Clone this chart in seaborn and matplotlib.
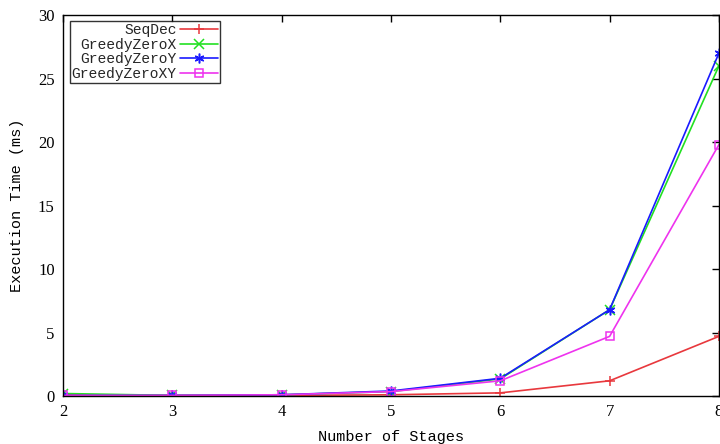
import matplotlib
matplotlib.use("Agg")
import matplotlib.pyplot as plt
import seaborn as sns
import pandas as pd

stages = [2, 3, 4, 5, 6, 7, 8]
seqdec = [0.1, 0.05, 0.05, 0.1, 0.25, 1.2, 4.7]
greedy_x = [0.2, 0.05, 0.1, 0.35, 1.35, 6.8, 26.0]
greedy_y = [0.05, 0.05, 0.1, 0.4, 1.4, 6.8, 27.0]
greedy_xy = [0.05, 0.05, 0.1, 0.35, 1.2, 4.7, 19.8]

series_names = ["SeqDec", "GreedyZeroX", "GreedyZeroY", "GreedyZeroXY"]
series_vals = [seqdec, greedy_x, greedy_y, greedy_xy]
colors = ["#e8383d", "#22e022", "#1a1aff", "#ee33ee"]
markers = ["+", "x", (6, 2, 0), "s"]

sns.set_theme(style="white")
plt.rcParams["font.family"] = ["Liberation Mono", "DejaVu Sans Mono"]

fig = plt.figure(figsize=(7.2, 4.44), dpi=100)
ax = fig.add_axes([0.0875, 0.108, 0.911, 0.858])

for name, vals, c, m in zip(series_names, series_vals, colors, markers):
    df = pd.DataFrame({"stage": stages, "time": vals})
    kw = dict(markersize=7, markeredgewidth=1.1, markeredgecolor=c,
              markerfacecolor=c)
    if m == "s":
        kw.update(markerfacecolor="none", markersize=6)
    sns.lineplot(data=df, x="stage", y="time", ax=ax, color=c, marker=m,
                 linewidth=1.2, label=name, **kw)

ax.set_xlim(2, 8)
ax.set_ylim(0, 30)
ax.set_xticks(stages)
ax.set_yticks([0, 5, 10, 15, 20, 25, 30])
ax.tick_params(direction="in", length=5, width=1, top=True, right=True,
               labelsize=12, colors="black", pad=6)
for lab in ax.get_xticklabels() + ax.get_yticklabels():
    lab.set_fontfamily(["Liberation Serif", "DejaVu Serif"])
for s in ax.spines.values():
    s.set_color("black")
    s.set_linewidth(1.0)

ax.set_xlabel("Number of Stages", fontsize=11, color="black", labelpad=7)
ax.set_ylabel("Execution Time (ms)", fontsize=11, color="black", labelpad=10)

leg = ax.legend(loc="upper left", bbox_to_anchor=(0.01, 0.985), markerfirst=False,
                frameon=True, fancybox=False, fontsize=10.5, handlelength=2.6,
                borderpad=0.15, labelspacing=0.05, handletextpad=0.2,
                borderaxespad=0)
leg.get_frame().set_edgecolor("black")
leg.get_frame().set_linewidth(1.0)

fig.savefig("out.png", dpi=100)
